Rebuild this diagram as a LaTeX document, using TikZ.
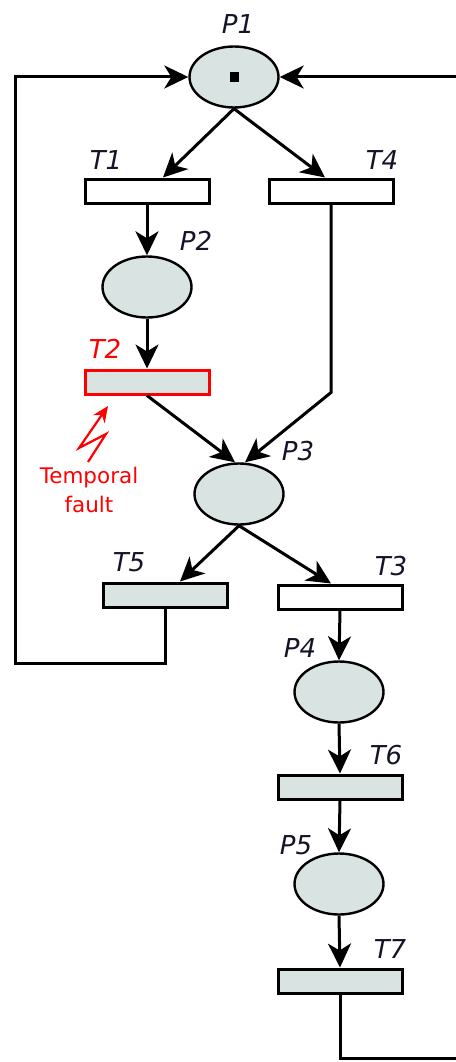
\documentclass[tikz,border=0pt]{standalone}
\usepackage{fontspec}
\setsansfont{DejaVu Sans}
\usetikzlibrary{shapes.geometric,arrows.meta,calc}
\definecolor{pfill}{RGB}{217,227,226}
\definecolor{lblcol}{RGB}{20,20,40}
\definecolor{fault}{RGB}{255,0,0}
\tikzset{
  place/.style={ellipse,draw=black,line width=2.4pt,fill=pfill,minimum width=89pt,minimum height=61pt,inner sep=0pt},
  trans/.style={rectangle,draw=black,line width=3pt,fill=white,minimum width=124pt,minimum height=24pt,inner sep=0pt},
  transg/.style={trans,fill=pfill},
  lbl/.style={font=\sffamily\itshape\fontsize{26}{30}\selectfont,text=lblcol,inner sep=0pt},
  arc/.style={line width=3pt,-{Stealth[length=24pt,width=23pt,inset=7pt]}},
}
\begin{document}
\begin{tikzpicture}[x=1pt,y=-1pt]
\useasboundingbox (0,0) rectangle (455,1062);
% places
\node[place] (P1) at (234,77) {};
\node[place] (P2) at (147,287) {};
\node[place] (P3) at (239,494) {};
\node[place] (P4) at (339,692) {};
\node[place] (P5) at (339,884) {};
\fill[black] (230,72) rectangle (239,82);
% transitions
\node[trans] (T1) at (147,191) {};
\node[trans] (T4) at (331,191) {};
\node[transg,draw=fault] (T2) at (147,382) {};
\node[transg] (T5) at (165,595) {};
\node[trans] (T3) at (340,597) {};
\node[transg] (T6) at (340,787) {};
\node[transg] (T7) at (340,981) {};
% labels
\node[lbl] (lP1) at (238,24) {P1};
\node[lbl] (lT1) at (106,160) {T1};
\node[lbl] (lT4) at (382,160) {T4};
\node[lbl] (lP2) at (196,241) {P2};
\node[lbl,text=fault] (lT2) at (105,349) {T2};
\node[lbl] (lP3) at (298,451) {P3};
\node[lbl] (lT5) at (129,562) {T5};
\node[lbl] (lT3) at (391,566) {T3};
\node[lbl] (lP4) at (300,648) {P4};
\node[lbl] (lT6) at (386,755) {T6};
\node[lbl] (lP5) at (296,845) {P5};
\node[lbl] (lT7) at (390,949) {T7};
\node[font=\sffamily\fontsize{21.5}{29}\selectfont,text=fault,align=center,inner sep=0pt] (fault) at (89,490) {Temporal\\fault};
% connectors
\draw[arc] (P1.south) -- ([xshift=16pt]T1.north);
\draw[arc] (P1.south) -- ([xshift=-6pt]T4.north);
\draw[arc] (T1.south) -- (P2.north);
\draw[arc] (P2.south) -- (T2.north);
\draw[arc] (T2.south) -- ([xshift=-4pt]P3.north);
\draw[arc] (T4.south) -- ++(0,188) -- ([xshift=6pt]P3.north);
\draw[arc] (P3.south) -- ([xshift=15pt]T5.north);
\draw[arc] (P3.south) -- ([xshift=-9pt]T3.north);
\draw[arc] (T3.south) -- (P4.north);
\draw[arc] (P4.south) -- (T6.north);
\draw[arc] (T6.south) -- (P5.north);
\draw[arc] (P5.south) -- (T7.north);
\draw[arc] (T5.south) |- (15,663) |- (P1.west);
\draw[arc] (T7.south) |- (470,1058) |- (P1.east);
% lightning
\draw[fault,line width=2.2pt,line join=miter,-{Stealth[length=16pt,width=14pt]}] (88,462) -- (106,434) -- (79,448) -- (108,406);
\end{tikzpicture}
\end{document}
